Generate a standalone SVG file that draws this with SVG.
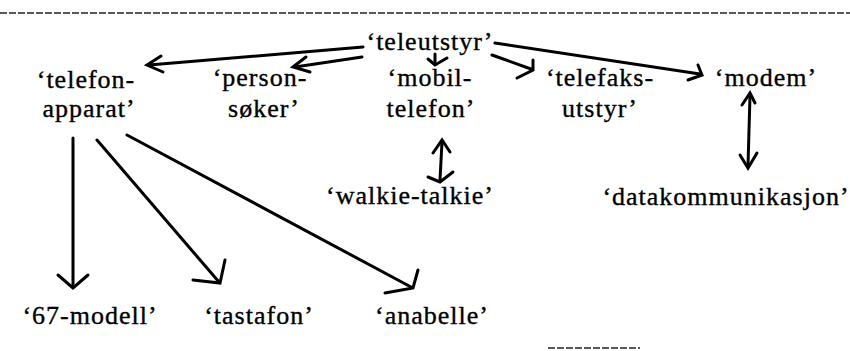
<svg xmlns="http://www.w3.org/2000/svg" width="850" height="351" viewBox="0 0 850 351">
<style>
.t { font-family: 'Liberation Serif', 'Times New Roman', Times, serif; font-size: 26px; letter-spacing: 1px; fill: #000; stroke: #000; stroke-width: 0.35; text-anchor: middle; }
.ln { fill: none; stroke: #000; stroke-width: 3; stroke-linecap: round; stroke-linejoin: round; }
.hd { fill: none; stroke: #000; stroke-width: 3; stroke-linecap: round; stroke-linejoin: miter; }
.dash { stroke: #222; stroke-width: 1.5; stroke-dasharray: 7 2; }
</style>
<rect width="850" height="351" fill="#fff"/>
<line class="dash" x1="0" y1="13" x2="850" y2="13"/>
<line class="dash" x1="548" y1="348" x2="640" y2="348" stroke="#777" stroke-width="1"/>

<g class="t">
<g id="teleutstyr"><text x="430" y="50">‘teleutstyr’</text></g>
<g id="telefonapparat"><text x="86" y="88">‘telefon-</text><text x="89" y="117">apparat’</text></g>
<g id="personsoker"><text x="260" y="86">‘person-</text><text x="264" y="117">søker’</text></g>
<g id="mobiltelefon"><text x="430" y="86">‘mobil-</text><text x="431" y="117">telefon’</text></g>
<g id="telefaksutstyr"><text x="600" y="86">‘telefaks-</text><text x="600" y="117">utstyr’</text></g>
<g id="modem"><text x="766" y="86">‘modem’</text></g>
<g id="walkietalkie"><text x="410" y="204">‘walkie-talkie’</text></g>
<g id="datakommunikasjon"><text x="726" y="205">‘datakommunikasjon’</text></g>
<g id="modell67"><text x="90" y="324">‘67-modell’</text></g>
<g id="tastafon"><text x="259" y="324">‘tastafon’</text></g>
<g id="anabelle"><text x="432" y="324">‘anabelle’</text></g>
</g>

<g id="connectors">
  <path class="ln" d="M363 47 L149 65"/>
  <polyline class="hd" points="161,56 147,65 163,72"/>
  <path class="ln" d="M362 57 L295 67"/>
  <polyline class="hd" points="306,57 293,67 310,72"/>
  <path class="ln" d="M435 54 L435 64"/>
  <polyline class="hd" points="428,59 435,65 447,58"/>
  <path class="ln" d="M492 55 L531 69"/>
  <polyline class="hd" points="533,60 533,70 517,78"/>
  <path class="ln" d="M495 43 L700 74"/>
  <polyline class="hd" points="698,65 702,75 688,80"/>
  <path class="ln" d="M442 142 L440 180"/>
  <polyline class="hd" points="433,153 442,140 450,152"/>
  <polyline class="hd" points="428,177 440,182 453,172"/>
  <path class="ln" d="M750 95 L748 166"/>
  <polyline class="hd" points="742,105 750,93 755,103"/>
  <polyline class="hd" points="740,155 748,168 757,153"/>
  <path class="ln" d="M73 138 L73 286"/>
  <polyline class="hd" points="58,275 73,288 88,275"/>
  <path class="ln" d="M97 140 L219 282"/>
  <polyline class="hd" points="193,280 220,283 225,260"/>
  <path class="ln" d="M127 135 L411 287"/>
  <polyline class="hd" points="385,293 413,288 418,270"/>
</g>
</svg>
